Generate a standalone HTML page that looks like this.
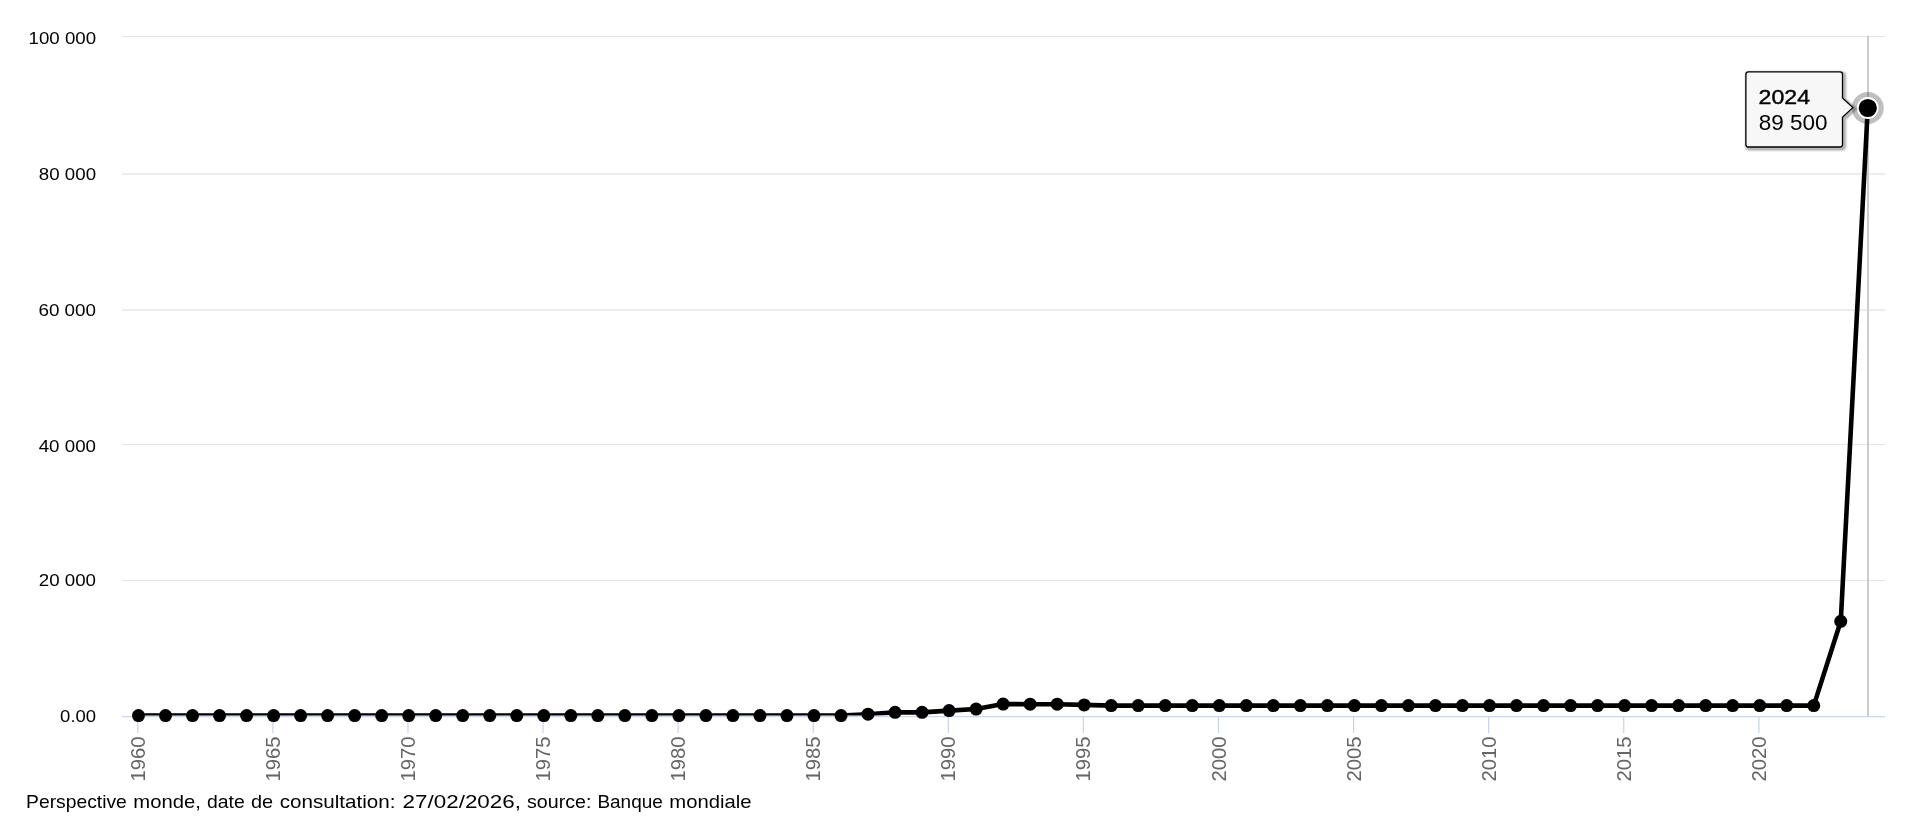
<!DOCTYPE html><html><head><meta charset="utf-8"><style>html,body{margin:0;padding:0;background:#fff;width:1920px;height:836px;overflow:hidden}svg{display:block;will-change:transform}text{font-family:"Liberation Sans", sans-serif}</style></head><body>
<svg width="1920" height="836" viewBox="0 0 1920 836">
<defs><clipPath id="pc"><rect x="122" y="0" width="1803" height="715.6"/></clipPath></defs>
<rect width="1920" height="836" fill="#fff"/>
<path d="M122 36.5H1885" stroke="#e6e6e6" stroke-width="1"/>
<path d="M122 174.0H1885" stroke="#e6e6e6" stroke-width="1.6"/>
<path d="M122 310.0H1885" stroke="#e6e6e6" stroke-width="1.6"/>
<path d="M122 444.5H1885" stroke="#e6e6e6" stroke-width="1"/>
<path d="M122 580.5H1885" stroke="#e6e6e6" stroke-width="1"/>
<rect x="1867" y="36" width="2" height="680" fill="#cccccc"/>
<path d="M122 716.6H1885" stroke="#ccd6eb" stroke-width="1.3"/>
<path d="M137.80 716V733" stroke="#ccd6eb" stroke-width="1.3"/>
<path d="M272.88 716V733" stroke="#ccd6eb" stroke-width="1.3"/>
<path d="M407.97 716V733" stroke="#ccd6eb" stroke-width="1.3"/>
<path d="M543.06 716V733" stroke="#ccd6eb" stroke-width="1.3"/>
<path d="M678.14 716V733" stroke="#ccd6eb" stroke-width="1.3"/>
<path d="M813.23 716V733" stroke="#ccd6eb" stroke-width="1.3"/>
<path d="M948.31 716V733" stroke="#ccd6eb" stroke-width="1.3"/>
<path d="M1083.39 716V733" stroke="#ccd6eb" stroke-width="1.3"/>
<path d="M1218.48 716V733" stroke="#ccd6eb" stroke-width="1.3"/>
<path d="M1353.57 716V733" stroke="#ccd6eb" stroke-width="1.3"/>
<path d="M1488.65 716V733" stroke="#ccd6eb" stroke-width="1.3"/>
<path d="M1623.74 716V733" stroke="#ccd6eb" stroke-width="1.3"/>
<path d="M1758.82 716V733" stroke="#ccd6eb" stroke-width="1.3"/>
<text transform="translate(28.52 43.75) scale(1.1008 1)" font-size="17" fill="#000">100 000</text>
<text transform="translate(38.87 179.85) scale(1.1002 1)" font-size="17" fill="#000">80 000</text>
<text transform="translate(38.43 315.95) scale(1.1089 1)" font-size="17" fill="#000">60 000</text>
<text transform="translate(38.69 451.95) scale(1.1039 1)" font-size="17" fill="#000">40 000</text>
<text transform="translate(38.73 586.15) scale(1.1030 1)" font-size="17" fill="#000">20 000</text>
<text transform="translate(60.12 722.33) scale(1.0898 1)" font-size="17" fill="#000">0.00</text>
<text transform="translate(144.80 781.60) rotate(-90) scale(1.040 1)" font-size="19.5" fill="#666">1960</text>
<text transform="translate(279.89 781.60) rotate(-90) scale(1.040 1)" font-size="19.5" fill="#666">1965</text>
<text transform="translate(414.98 781.60) rotate(-90) scale(1.040 1)" font-size="19.5" fill="#666">1970</text>
<text transform="translate(550.07 781.60) rotate(-90) scale(1.040 1)" font-size="19.5" fill="#666">1975</text>
<text transform="translate(685.16 781.60) rotate(-90) scale(1.040 1)" font-size="19.5" fill="#666">1980</text>
<text transform="translate(820.25 781.60) rotate(-90) scale(1.040 1)" font-size="19.5" fill="#666">1985</text>
<text transform="translate(955.34 781.60) rotate(-90) scale(1.040 1)" font-size="19.5" fill="#666">1990</text>
<text transform="translate(1090.43 781.60) rotate(-90) scale(1.040 1)" font-size="19.5" fill="#666">1995</text>
<text transform="translate(1225.52 781.60) rotate(-90) scale(1.040 1)" font-size="19.5" fill="#666">2000</text>
<text transform="translate(1360.61 781.60) rotate(-90) scale(1.040 1)" font-size="19.5" fill="#666">2005</text>
<text transform="translate(1495.70 781.60) rotate(-90) scale(1.040 1)" font-size="19.5" fill="#666">2010</text>
<text transform="translate(1630.79 781.60) rotate(-90) scale(1.040 1)" font-size="19.5" fill="#666">2015</text>
<text transform="translate(1765.88 781.60) rotate(-90) scale(1.040 1)" font-size="19.5" fill="#666">2020</text>
<path d="M138.50 715.60 L165.52 715.60 L192.54 715.60 L219.56 715.60 L246.58 715.60 L273.60 715.60 L300.62 715.60 L327.64 715.60 L354.66 715.60 L381.68 715.60 L408.70 715.60 L435.72 715.60 L462.74 715.60 L489.76 715.60 L516.78 715.60 L543.80 715.60 L570.82 715.60 L597.84 715.60 L624.86 715.60 L651.88 715.60 L678.90 715.60 L705.92 715.60 L732.94 715.60 L759.96 715.60 L786.98 715.60 L814.00 715.60 L841.02 715.60 L868.04 714.20 L895.06 712.35 L922.08 712.35 L949.10 710.60 L976.12 709.05 L1003.14 704.05 L1030.16 704.20 L1057.18 704.20 L1084.20 704.90 L1111.22 705.60 L1138.24 705.60 L1165.26 705.60 L1192.28 705.60 L1219.30 705.60 L1246.32 705.60 L1273.34 705.60 L1300.36 705.60 L1327.38 705.60 L1354.40 705.60 L1381.42 705.60 L1408.44 705.60 L1435.46 705.60 L1462.48 705.60 L1489.50 705.60 L1516.52 705.60 L1543.54 705.60 L1570.56 705.60 L1597.58 705.60 L1624.60 705.60 L1651.62 705.60 L1678.64 705.60 L1705.66 705.60 L1732.68 705.60 L1759.70 705.60 L1786.72 705.60 L1813.74 705.60 L1840.76 621.30 L1867.78 108.00" fill="none" stroke="#000" stroke-width="4.6" stroke-linejoin="round" stroke-linecap="round" clip-path="url(#pc)"/>
<circle cx="138.50" cy="715.60" r="6.5" fill="#000"/>
<circle cx="165.52" cy="715.60" r="6.5" fill="#000"/>
<circle cx="192.54" cy="715.60" r="6.5" fill="#000"/>
<circle cx="219.56" cy="715.60" r="6.5" fill="#000"/>
<circle cx="246.58" cy="715.60" r="6.5" fill="#000"/>
<circle cx="273.60" cy="715.60" r="6.5" fill="#000"/>
<circle cx="300.62" cy="715.60" r="6.5" fill="#000"/>
<circle cx="327.64" cy="715.60" r="6.5" fill="#000"/>
<circle cx="354.66" cy="715.60" r="6.5" fill="#000"/>
<circle cx="381.68" cy="715.60" r="6.5" fill="#000"/>
<circle cx="408.70" cy="715.60" r="6.5" fill="#000"/>
<circle cx="435.72" cy="715.60" r="6.5" fill="#000"/>
<circle cx="462.74" cy="715.60" r="6.5" fill="#000"/>
<circle cx="489.76" cy="715.60" r="6.5" fill="#000"/>
<circle cx="516.78" cy="715.60" r="6.5" fill="#000"/>
<circle cx="543.80" cy="715.60" r="6.5" fill="#000"/>
<circle cx="570.82" cy="715.60" r="6.5" fill="#000"/>
<circle cx="597.84" cy="715.60" r="6.5" fill="#000"/>
<circle cx="624.86" cy="715.60" r="6.5" fill="#000"/>
<circle cx="651.88" cy="715.60" r="6.5" fill="#000"/>
<circle cx="678.90" cy="715.60" r="6.5" fill="#000"/>
<circle cx="705.92" cy="715.60" r="6.5" fill="#000"/>
<circle cx="732.94" cy="715.60" r="6.5" fill="#000"/>
<circle cx="759.96" cy="715.60" r="6.5" fill="#000"/>
<circle cx="786.98" cy="715.60" r="6.5" fill="#000"/>
<circle cx="814.00" cy="715.60" r="6.5" fill="#000"/>
<circle cx="841.02" cy="715.60" r="6.5" fill="#000"/>
<circle cx="868.04" cy="714.20" r="6.5" fill="#000"/>
<circle cx="895.06" cy="712.35" r="6.5" fill="#000"/>
<circle cx="922.08" cy="712.35" r="6.5" fill="#000"/>
<circle cx="949.10" cy="710.60" r="6.5" fill="#000"/>
<circle cx="976.12" cy="709.05" r="6.5" fill="#000"/>
<circle cx="1003.14" cy="704.05" r="6.5" fill="#000"/>
<circle cx="1030.16" cy="704.20" r="6.5" fill="#000"/>
<circle cx="1057.18" cy="704.20" r="6.5" fill="#000"/>
<circle cx="1084.20" cy="704.90" r="6.5" fill="#000"/>
<circle cx="1111.22" cy="705.60" r="6.5" fill="#000"/>
<circle cx="1138.24" cy="705.60" r="6.5" fill="#000"/>
<circle cx="1165.26" cy="705.60" r="6.5" fill="#000"/>
<circle cx="1192.28" cy="705.60" r="6.5" fill="#000"/>
<circle cx="1219.30" cy="705.60" r="6.5" fill="#000"/>
<circle cx="1246.32" cy="705.60" r="6.5" fill="#000"/>
<circle cx="1273.34" cy="705.60" r="6.5" fill="#000"/>
<circle cx="1300.36" cy="705.60" r="6.5" fill="#000"/>
<circle cx="1327.38" cy="705.60" r="6.5" fill="#000"/>
<circle cx="1354.40" cy="705.60" r="6.5" fill="#000"/>
<circle cx="1381.42" cy="705.60" r="6.5" fill="#000"/>
<circle cx="1408.44" cy="705.60" r="6.5" fill="#000"/>
<circle cx="1435.46" cy="705.60" r="6.5" fill="#000"/>
<circle cx="1462.48" cy="705.60" r="6.5" fill="#000"/>
<circle cx="1489.50" cy="705.60" r="6.5" fill="#000"/>
<circle cx="1516.52" cy="705.60" r="6.5" fill="#000"/>
<circle cx="1543.54" cy="705.60" r="6.5" fill="#000"/>
<circle cx="1570.56" cy="705.60" r="6.5" fill="#000"/>
<circle cx="1597.58" cy="705.60" r="6.5" fill="#000"/>
<circle cx="1624.60" cy="705.60" r="6.5" fill="#000"/>
<circle cx="1651.62" cy="705.60" r="6.5" fill="#000"/>
<circle cx="1678.64" cy="705.60" r="6.5" fill="#000"/>
<circle cx="1705.66" cy="705.60" r="6.5" fill="#000"/>
<circle cx="1732.68" cy="705.60" r="6.5" fill="#000"/>
<circle cx="1759.70" cy="705.60" r="6.5" fill="#000"/>
<circle cx="1786.72" cy="705.60" r="6.5" fill="#000"/>
<circle cx="1813.74" cy="705.60" r="6.5" fill="#000"/>
<circle cx="1840.76" cy="621.30" r="6.5" fill="#000"/>
<circle cx="1867.78" cy="108.00" r="16" fill="#000" fill-opacity="0.25"/>
<circle cx="1867.78" cy="108.00" r="10" fill="#000" stroke="#fff" stroke-width="1.8"/>
<path d="M1748.4 71.9 H1840.0 Q1842.5 71.9 1842.5 74.4 V98 L1852.8 107.6 L1842.5 117.3 V144.5 Q1842.5 147.0 1840.0 147.0 H1748.4 Q1745.9 147.0 1745.9 144.5 V74.4 Q1745.9 71.9 1748.4 71.9 Z" fill="none" stroke="#000" stroke-opacity="0.06" stroke-width="7" transform="translate(1.5 1.5)"/>
<path d="M1748.4 71.9 H1840.0 Q1842.5 71.9 1842.5 74.4 V98 L1852.8 107.6 L1842.5 117.3 V144.5 Q1842.5 147.0 1840.0 147.0 H1748.4 Q1745.9 147.0 1745.9 144.5 V74.4 Q1745.9 71.9 1748.4 71.9 Z" fill="none" stroke="#000" stroke-opacity="0.1" stroke-width="5" transform="translate(1.5 1.5)"/>
<path d="M1748.4 71.9 H1840.0 Q1842.5 71.9 1842.5 74.4 V98 L1852.8 107.6 L1842.5 117.3 V144.5 Q1842.5 147.0 1840.0 147.0 H1748.4 Q1745.9 147.0 1745.9 144.5 V74.4 Q1745.9 71.9 1748.4 71.9 Z" fill="none" stroke="#000" stroke-opacity="0.15" stroke-width="3" transform="translate(1.5 1.5)"/>
<path d="M1748.4 71.9 H1840.0 Q1842.5 71.9 1842.5 74.4 V98 L1852.8 107.6 L1842.5 117.3 V144.5 Q1842.5 147.0 1840.0 147.0 H1748.4 Q1745.9 147.0 1745.9 144.5 V74.4 Q1745.9 71.9 1748.4 71.9 Z" fill="#f7f7f7" stroke="#000" stroke-width="1.3"/>
<text transform="translate(1758.57 104.00) scale(1.1295 1)" font-size="20.5" fill="#000" stroke="#000" stroke-width="0.4">2024</text>
<text transform="translate(1758.75 129.70) scale(1.0474 1)" font-size="21.5" fill="#000">89 500</text>
<text transform="translate(26.11 808.10) scale(1.0902 1)" font-size="17.7" fill="#000">Perspective</text>
<text transform="translate(133.27 808.10) scale(1.1449 1)" font-size="17.7" fill="#000">monde,</text>
<text transform="translate(206.98 808.10) scale(1.0951 1)" font-size="17.7" fill="#000">date</text>
<text transform="translate(250.96 808.10) scale(1.1255 1)" font-size="17.7" fill="#000">de</text>
<text transform="translate(279.63 808.10) scale(1.1660 1)" font-size="17.7" fill="#000">consultation:</text>
<text transform="translate(402.59 808.10) scale(1.2659 1)" font-size="17.7" fill="#000">27/02/2026,</text>
<text transform="translate(527.05 808.10) scale(1.1096 1)" font-size="17.7" fill="#000">source:</text>
<text transform="translate(597.39 808.10) scale(1.0723 1)" font-size="17.7" fill="#000">Banque</text>
<text transform="translate(669.37 808.10) scale(1.1455 1)" font-size="17.7" fill="#000">mondiale</text>
</svg></body></html>
